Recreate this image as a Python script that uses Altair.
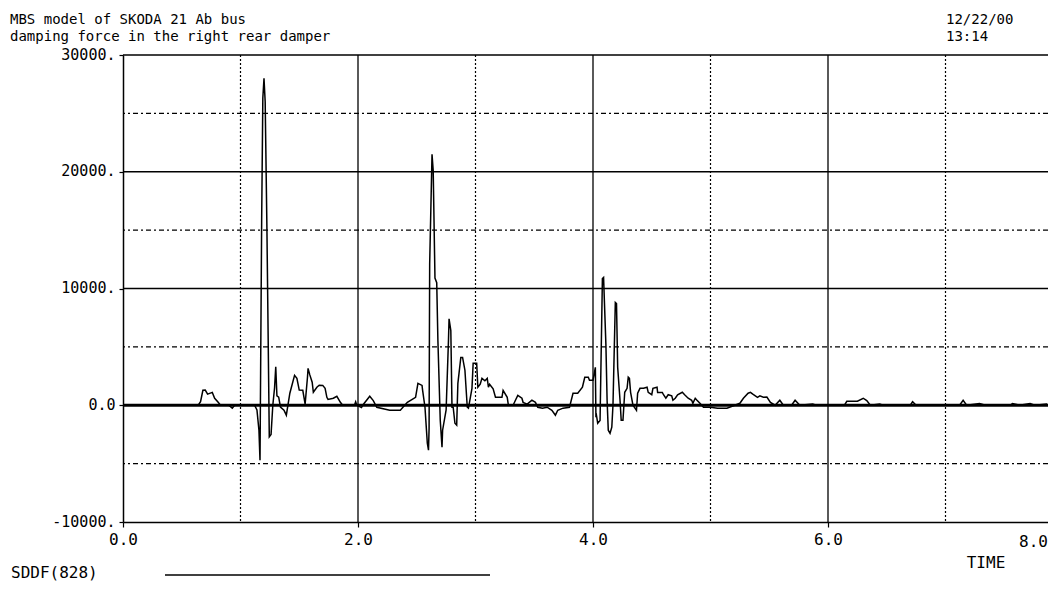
import altair as alt
import pandas as pd

# ---- data -------------------------------------------------------------
time_s = [
    0.00, 0.64, 0.66, 0.68, 0.70, 0.72, 0.76, 0.78, 0.81, 0.83, 0.90, 0.93, 0.95,
    1.12, 1.14, 1.157, 1.166, 1.18, 1.19, 1.20, 1.21, 1.225, 1.245, 1.26, 1.275,
    1.29, 1.30, 1.31, 1.325, 1.34, 1.37, 1.39, 1.42, 1.46, 1.48, 1.50, 1.53, 1.55,
    1.57, 1.575, 1.59, 1.61, 1.62, 1.65, 1.67, 1.70, 1.72, 1.735, 1.745, 1.79, 1.82,
    1.85, 1.87, 1.97, 1.98, 1.99, 2.03, 2.04, 2.10, 2.13, 2.16, 2.27, 2.36, 2.42,
    2.49, 2.51, 2.545, 2.55, 2.57, 2.59, 2.60, 2.605, 2.61, 2.63, 2.64, 2.655, 2.67,
    2.68, 2.70, 2.715, 2.72, 2.75, 2.77, 2.775, 2.79, 2.80, 2.81, 2.825, 2.84, 2.85,
    2.875, 2.89, 2.91, 2.93, 2.94, 2.97, 2.98, 3.01, 3.02, 3.04, 3.055, 3.08, 3.10,
    3.11, 3.12, 3.15, 3.17, 3.225, 3.235, 3.27, 3.28, 3.32, 3.34, 3.36, 3.395, 3.405,
    3.44, 3.48, 3.51, 3.53, 3.57, 3.61, 3.65, 3.68, 3.70, 3.745, 3.80, 3.83, 3.87,
    3.91, 3.93, 3.96, 3.97, 4.00, 4.02, 4.025, 4.03, 4.04, 4.06, 4.08, 4.09, 4.11,
    4.12, 4.13, 4.145, 4.16, 4.17, 4.19, 4.20, 4.21, 4.23, 4.24, 4.255, 4.27, 4.29,
    4.30, 4.31, 4.32, 4.34, 4.37, 4.38, 4.40, 4.43, 4.46, 4.47, 4.50, 4.51, 4.545,
    4.55, 4.59, 4.60, 4.62, 4.64, 4.67, 4.68, 4.70, 4.72, 4.76, 4.78, 4.81, 4.84,
    4.85, 4.87, 4.885, 4.91, 4.94, 5.00, 5.06, 5.14, 5.25, 5.28, 5.32, 5.34, 5.36,
    5.40, 5.42, 5.45, 5.48, 5.51, 5.55, 5.59, 5.62, 5.69, 5.72, 5.76, 5.87, 5.90,
    6.14, 6.16, 6.25, 6.30, 6.33, 6.36, 6.44, 6.47, 6.70, 6.72, 6.75, 7.12, 7.15,
    7.18, 7.29, 7.34, 7.55, 7.57, 7.63, 7.72, 7.76, 7.86, 7.87,
]
force_n = [
    0, 0, 300, 1280, 1300, 950, 1100, 600, 250, 0, 0, -250, 0,
    0, -400, -2140, -4700, 15700, 26300, 28000, 26000, 15000, -2700, -2500, 0,
    1500, 3300, 800, 700, -150, -430, -850, 1030, 2560, 2300, 1300, 1280, 100,
    2400, 3160, 2600, 1970, 1110, 1540, 1710, 1700, 1450, 680, 500, 600, 770,
    250, 0, 0, 300, 0, -200, 0, 770, 400, -170, -430, -430, 250,
    680, 1880, 1700, 1280, -170, -3250, -3850, -2000, 12100, 21500, 20100, 10900, 10500,
    5550, -1280, -3600, -2140, -400, 5560, 7400, 6400, -170, -170, -1540, -1700, 1880,
    4100, 4100, 3000, -170, -250, 1450, 3600, 3600, 1540, 1800, 2300, 2100, 2300,
    1540, 1800, 1400, 680, 680, 1280, 680, 0, 0, 430, 850, 600, 250,
    100, 430, 250, -170, -250, -170, -430, -850, -430, -250, -170, 1030, 1030,
    1540, 2400, 2400, 2140, 2140, 3250, -1030, -900, -1540, -1300, 10850, 10950, 5130,
    430, -2140, -2400, -1880, 0, 8800, 8700, 3250, 430, -1280, -1280, 1110, 1450,
    2400, 2300, 1110, 0, -430, 1030, 1450, 1450, 1540, 1100, 900, 1450, 1540,
    1100, 1100, 900, 600, 900, 800, 430, 600, 900, 1110, 900, 600, 430,
    170, 600, 430, 170, -170, -170, -250, -250, 170, 600, 1030, 1110, 950,
    680, 800, 680, 700, 250, 0, 430, 0, 0, 430, 0, 100, 0,
    0, 340, 340, 600, 400, 0, 100, 0, 0, 300, 0, 0, 430,
    0, 150, 0, 0, 150, 0, 150, 0, 100, 0,
]

x_tick_values = [0, 2, 4, 6]
y_tick_values = [-10000, 0, 10000, 20000, 30000]
x_grid_solid = [2, 4, 6]
x_grid_dotted = [1, 3, 5, 7]
y_grid_solid = [10000, 20000, 30000]
y_grid_dashdot = [-5000, 5000, 15000, 25000]
y_zero = [0]

title_line1 = "MBS model of SKODA 21 Ab bus"
title_line2 = "damping force in the right rear damper"
date_text = "12/22/00"
time_text = "13:14"
last_x_label = "8.0"
x_title = "TIME"
legend_label = "SDDF(828)"

# ---- layout --------------------------------------------------------------
FONT = "DejaVu Sans Mono"
FS = 16
PLOT_W = 925
PLOT_H = 467
PX_PER_UNIT = 117.5
X_MAX = PLOT_W / PX_PER_UNIT

xs = alt.Scale(domain=[0, X_MAX], nice=False, zero=False)
ys = alt.Scale(domain=[-10000, 30000], nice=False, zero=False)

df = pd.DataFrame({"t": time_s, "f": force_n})

x_axis = alt.Axis(
    values=x_tick_values, labelExpr="format(datum.value, '.1f')", title=None,
    grid=False, domainColor="black", domainWidth=1.5, tickColor="black",
    tickSize=5, tickWidth=1.2, labelFont=FONT, labelFontSize=FS, labelColor="black",
    labelPadding=4, labelFlush=False,
)
y_axis = alt.Axis(
    values=y_tick_values,
    labelExpr="datum.value == 0 ? '0.0' : '' + datum.value + '.'",
    title=None, grid=False, domainColor="black", domainWidth=1.5,
    tickColor="black", tickSize=4, tickWidth=1.2, labelFont=FONT,
    labelFontSize=15, labelColor="black", labelPadding=4,
    labelBaseline="alphabetic", labelOffset=4, labelFlush=False,
)


def vrules(vals, dash, width):
    kw = {"color": "black", "strokeWidth": width}
    if dash:
        kw["strokeDash"] = dash
    return alt.Chart(pd.DataFrame({"v": vals})).mark_rule(**kw).encode(
        x=alt.X("v:Q", scale=xs, axis=x_axis)
    )


def hrules(vals, dash, width):
    kw = {"color": "black", "strokeWidth": width}
    if dash:
        kw["strokeDash"] = dash
    return alt.Chart(pd.DataFrame({"v": vals})).mark_rule(**kw).encode(
        y=alt.Y("v:Q", scale=ys, axis=y_axis)
    )


def label(text, x, y, align="left", size=FS):
    return alt.Chart(pd.DataFrame({"s": [text]})).mark_text(
        align=align, baseline="alphabetic", font=FONT, fontSize=size, color="black"
    ).encode(text="s:N", x=alt.value(x), y=alt.value(y))


line = alt.Chart(df).mark_line(color="black", strokeWidth=1.5, clip=True).encode(
    x=alt.X("t:Q", scale=xs, axis=x_axis),
    y=alt.Y("f:Q", scale=ys, axis=y_axis),
    order="t:Q",
)

legend_rule = alt.Chart(pd.DataFrame({"s": [legend_label]})).mark_rule(
    color="black", strokeWidth=1.5
).encode(x=alt.value(42), x2=alt.value(367), y=alt.value(520))

chart = alt.layer(
    vrules(x_grid_dotted, [2, 2], 1.2),
    hrules(y_grid_dashdot, [5, 3, 2, 3], 1.2),
    vrules(x_grid_solid, None, 1.3),
    hrules(y_grid_solid, None, 1.3),
    hrules(y_zero, None, 3),
    line,
    label(title_line1, -113, -31, size=14),
    label(title_line2, -113, -14, size=14),
    label(date_text, 823, -31, size=14),
    label(time_text, 823, -14, size=14),
    label(last_x_label, 925, 492, "right"),
    label(x_title, 863, 513, "center"),
    label(legend_label, -112, 523),
    legend_rule,
).properties(
    width=PLOT_W,
    height=PLOT_H,
    autosize=alt.AutoSizeParams(type="none"),
    padding={"left": 115, "top": 47, "right": 0, "bottom": 61},
    background="white",
).configure_view(stroke=None)

chart.save("out.html", embed_options={"renderer": "svg", "actions": False})
